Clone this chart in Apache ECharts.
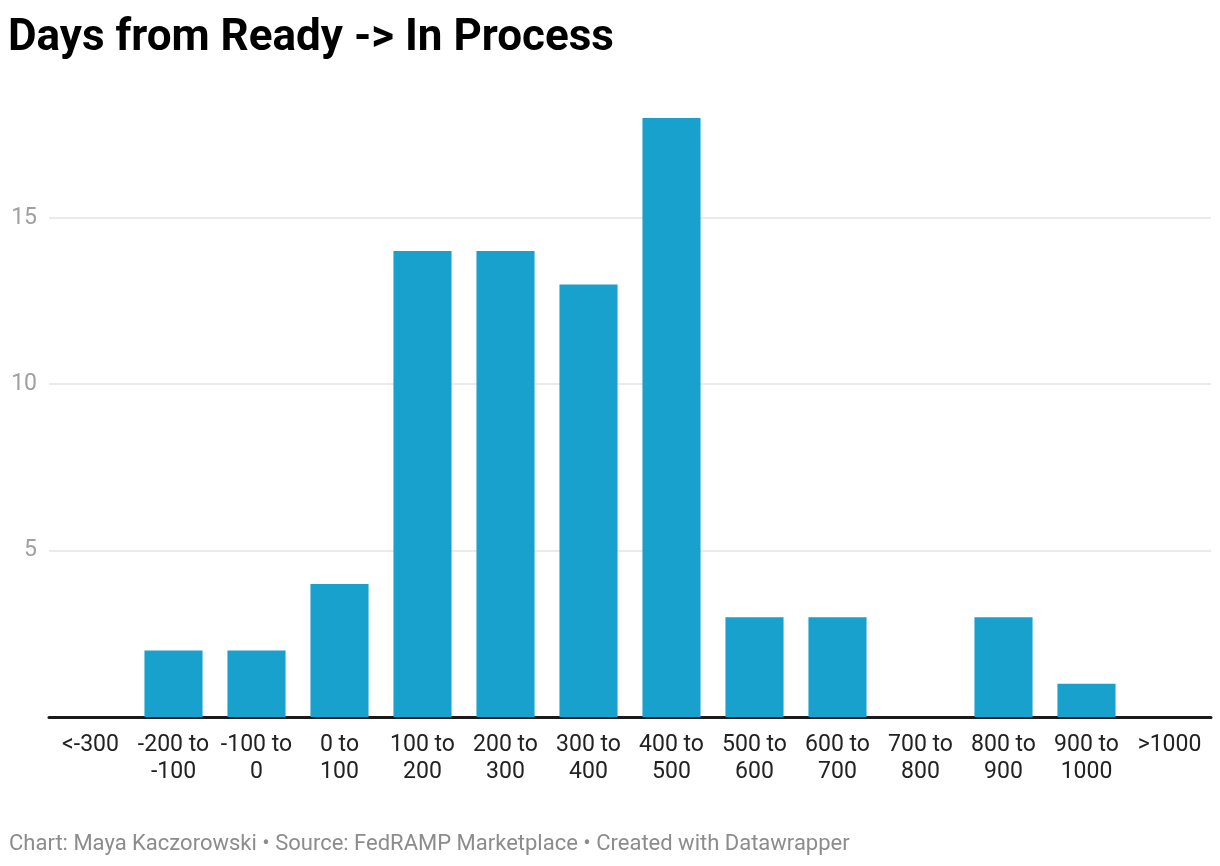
<!DOCTYPE html>
<html><head><meta charset="utf-8">
<script src="https://cdn.jsdelivr.net/npm/echarts@6/dist/echarts.min.js"></script>
<style>html,body{margin:0;padding:0;background:#fff}#c{width:1220px;height:866px}</style>
</head><body><div id="c"></div>
<script>
const categories = ['<-300','-200 to\n-100','-100 to\n0','0 to\n100','100 to\n200','200 to\n300','300 to\n400','400 to\n500','500 to\n600','600 to\n700','700 to\n800','800 to\n900','900 to\n1000','>1000'];
const counts = [0,2,2,4,14,14,13,18,3,3,0,3,1,0];
const yTicks = [0,5,10,15];

const chart = echarts.init(document.getElementById('c'));
chart.setOption({
  animation:false,
  textStyle:{fontFamily:'Roboto'},
  title:[{
    text:'Days from Ready -> In Process', left:3, top:12,
    textStyle:{fontFamily:'Roboto',fontWeight:'bold',fontSize:44,color:'#000'}
  },{
    text:'Chart: Maya Kaczorowski • Source: FedRAMP Marketplace • Created with Datawrapper',
    left:4, top:828,
    textStyle:{fontFamily:'Roboto',fontWeight:'normal',fontSize:22,color:'#8c8c8c'}
  }],
  grid:{left:49,right:9,top:118,bottom:149,containLabel:false},
  xAxis:{
    type:'category', data:categories,
    axisLine:{lineStyle:{color:'#1a1a1a',width:3}},
    axisTick:{show:false},
    axisLabel:{interval:0,color:'#222',fontSize:23,lineHeight:27,margin:15,fontFamily:'Roboto'}
  },
  yAxis:{
    type:'value', min:0, max:18, interval:5,
    axisLine:{show:false}, axisTick:{show:false},
    axisLabel:{color:'#a0a0a0',fontSize:23,margin:12,showMaxLabel:false,
      formatter:v=> (yTicks.includes(v) && v!==0) ? String(v) : ''},
    splitLine:{lineStyle:{color:['rgba(0,0,0,0)','#e3e3e3','#e3e3e3','#e3e3e3','rgba(0,0,0,0)'],width:1.5}}
  },
  series:[{
    type:'bar', data:counts, barCategoryGap:'30%',
    itemStyle:{color:'#18a1cd'}
  }]
});
</script></body></html>
